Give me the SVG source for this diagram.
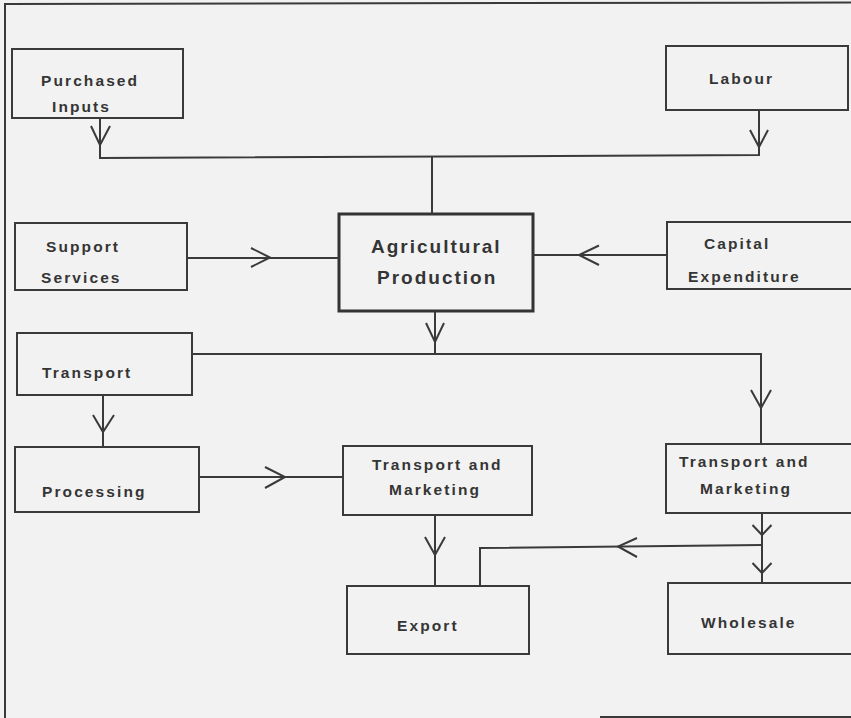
<svg xmlns="http://www.w3.org/2000/svg" width="851" height="718" viewBox="0 0 851 718">
<style>
.bg{fill:#f2f2f2}
.box{fill:none;stroke:#3a3a3a;stroke-width:2}
.main{fill:none;stroke:#333;stroke-width:3}
.ln{fill:none;stroke:#3a3a3a;stroke-width:2}
.ah{fill:none;stroke:#3a3a3a;stroke-width:2;stroke-linejoin:miter}
text{font-family:"Liberation Sans",Arial,sans-serif;font-weight:bold;font-size:15.5px;letter-spacing:2.1px;fill:#353535}
.big{font-size:19px;letter-spacing:2px}
</style>
<rect class="bg" x="0" y="0" width="851" height="718"/>
<g id="frame">
<path class="ln" d="M5,718 V4 L851,2.5"/>
<path class="ln" d="M600,717 H851" stroke="#555"/>
</g>
<g id="purchased-inputs">
<rect class="box" x="12" y="49" width="171" height="69"/>
<text x="41" y="86">Purchased</text>
<text x="52" y="112">Inputs</text>
</g>
<g id="labour">
<rect class="box" x="666" y="46" width="182" height="64"/>
<text x="709" y="84">Labour</text>
</g>
<g id="support-services">
<rect class="box" x="15" y="223" width="172" height="67"/>
<text x="46" y="252">Support</text>
<text x="41" y="283">Services</text>
</g>
<g id="agricultural-production">
<rect class="main" x="339" y="214" width="194" height="97"/>
<text class="big" x="371" y="253">Agricultural</text>
<text class="big" x="377" y="284">Production</text>
</g>
<g id="capital-expenditure">
<rect class="box" x="667" y="222" width="200" height="67"/>
<text x="704" y="249">Capital</text>
<text x="688" y="282">Expenditure</text>
</g>
<g id="transport">
<rect class="box" x="17" y="333" width="175" height="62"/>
<text x="42" y="378">Transport</text>
</g>
<g id="processing">
<rect class="box" x="15" y="447" width="184" height="65"/>
<text x="42" y="497">Processing</text>
</g>
<g id="transport-marketing-1">
<rect class="box" x="343" y="446" width="189" height="69"/>
<text x="372" y="470">Transport and</text>
<text x="389" y="495">Marketing</text>
</g>
<g id="transport-marketing-2">
<rect class="box" x="666" y="444" width="200" height="69"/>
<text x="679" y="467">Transport and</text>
<text x="700" y="494">Marketing</text>
</g>
<g id="export">
<rect class="box" x="347" y="586" width="182" height="68"/>
<text x="397" y="631">Export</text>
</g>
<g id="wholesale">
<rect class="box" x="668" y="583" width="200" height="71"/>
<text x="701" y="628">Wholesale</text>
</g>
<g id="connectors">
<path class="ln" d="M100,118 V158 L759,155 V110"/>
<path class="ln" d="M432,156.5 V214"/>
<path class="ah" d="M91,126 L100,145 L110,126"/>
<path class="ah" d="M750,130 L759,147 L768,130"/>
<path class="ln" d="M187,258 H339"/>
<path class="ah" d="M251,248 L270,257.5 L251,267"/>
<path class="ln" d="M533,255 H667"/>
<path class="ah" d="M599,245.5 L579,255 L599,265"/>
<path class="ln" d="M435,311 V354"/>
<path class="ah" d="M426,323 L435,342 L444,323"/>
<path class="ln" d="M192,354 H761 V444"/>
<path class="ah" d="M751,390 L761,408 L771,390"/>
<path class="ln" d="M103,395 V447"/>
<path class="ah" d="M93,415 L103,432 L114,415"/>
<path class="ln" d="M199,477 H343"/>
<path class="ah" d="M265,467 L285,477 L265,488"/>
<path class="ln" d="M435,515 V586"/>
<path class="ah" d="M425,537 L435,555 L445,537"/>
<path class="ln" d="M762,513 V583"/>
<path class="ah" d="M752.5,525 L762,535 L771.5,525"/>
<path class="ah" d="M752.5,563 L762,573 L771.5,563"/>
<path class="ln" d="M762,545 L480,548 V586"/>
<path class="ah" d="M637,538 L618,546.5 L637,557"/>
</g>
</svg>
